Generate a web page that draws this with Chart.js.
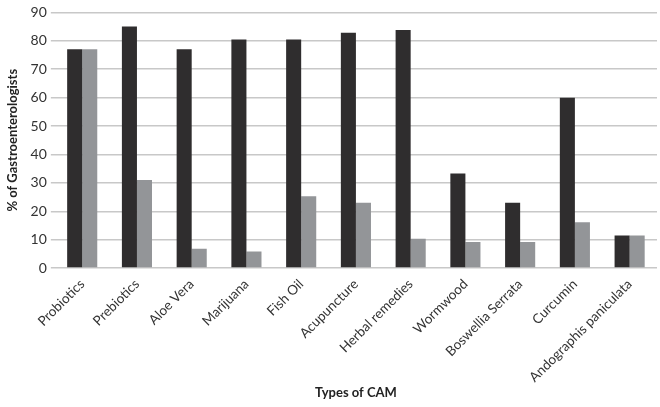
<!DOCTYPE html>
<html>
<head>
<meta charset="utf-8">
<script src="https://cdn.jsdelivr.net/npm/chart.js@4.4.0/dist/chart.umd.min.js"></script>
<style>
  html, body { margin: 0; padding: 0; background: #fff; }
  #wrap { width: 660px; height: 407px; }
</style>
</head>
<body>
<div id="wrap"><canvas id="myChart" width="660" height="407"></canvas></div>
<script>
// categories and values
const categories = ['Probiotics', 'Prebiotics', 'Aloe Vera', 'Marijuana', 'Fish Oil', 'Acupuncture',
    'Herbal remedies', 'Wormwood', 'Boswellia Serrata', 'Curcumin', 'Andographis paniculata']
const darkValues = [77, 85, 77, 80.5, 80.5, 82.8, 83.8, 33.3, 23, 60, 11.5]
const greyValues = [77, 31, 6.8, 5.8, 25.3, 23, 10.3, 9.2, 9.2, 16.1, 11.5]
const yTicks = [0, 10, 20, 30, 40, 50, 60, 70, 80, 90]

const font = "Lato, 'Open Sans', sans-serif"

const ctx = document.getElementById('myChart')
let myChart = new Chart(ctx, {
    type: 'bar',
    data: {
        labels: categories,
        datasets: [{
            label: 'Series 1',
            data: darkValues,
            backgroundColor: '#2f2d2e',
            categoryPercentage: 0.55,
            barPercentage: 1
        }, {
            label: 'Series 2',
            data: greyValues,
            backgroundColor: '#939598',
            categoryPercentage: 0.55,
            barPercentage: 1
        }]
    },
    options: {
        responsive: false,
        animation: false,
        layout: { padding: { top: 10, right: 3, left: 5, bottom: 6 } },
        plugins: {
            legend: { display: false },
            tooltip: { enabled: false }
        },
        scales: {
            x: {
                grid: { display: false },
                border: { display: false },
                ticks: {
                    maxRotation: 45,
                    minRotation: 45,
                    color: '#333',
                    font: { family: font, size: 13.5 },
                    padding: 0
                },
                title: {
                    display: true,
                    text: 'Types of CAM',
                    color: '#222',
                    font: { family: font, size: 13, weight: 'bold' },
                    padding: { top: 0, bottom: 0 }
                }
            },
            y: {
                min: 0,
                max: 90,
                afterBuildTicks: (axis) => { axis.ticks = yTicks.map(v => ({ value: v })) },
                grid: { color: '#c8c8c8', lineWidth: 1.5, drawTicks: true, tickLength: 4 },
                border: { display: false },
                ticks: {
                    color: '#333',
                    font: { family: font, size: 14 },
                    padding: 4
                },
                title: {
                    display: true,
                    text: '% of Gastroenterologists',
                    color: '#222',
                    font: { family: font, size: 13, weight: 'bold' },
                    padding: { top: 0, bottom: 6 }
                }
            }
        }
    }
});
</script>
</body>
</html>
